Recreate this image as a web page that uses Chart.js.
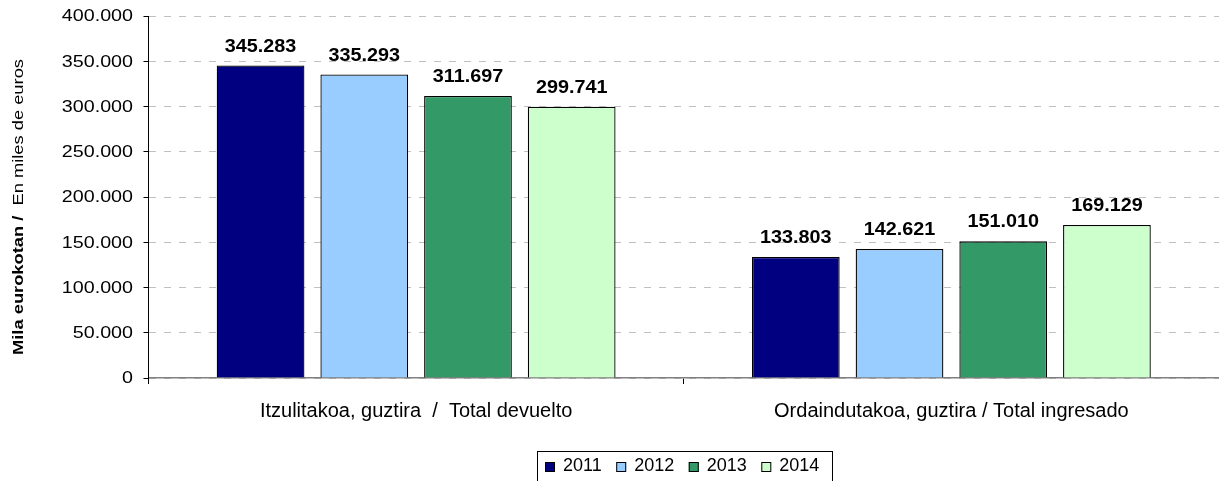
<!DOCTYPE html>
<html>
<head>
<meta charset="utf-8">
<script src="https://cdn.jsdelivr.net/npm/chart.js@4/dist/chart.umd.min.js"></script>
<style>
  html, body { margin: 0; padding: 0; background: #fff; overflow: hidden; }
  #wrap { width: 1219px; height: 481px; }
</style>
</head>
<body>
<div id="wrap"><canvas id="refundChart"></canvas></div>
<script>
const categories = ["Itzulitakoa, guztira  /  Total devuelto", "Ordaindutakoa, guztira / Total ingresado"];
const years = ["2011", "2012", "2013", "2014"];
const values2011 = [345283, 133803];
const values2012 = [335293, 142621];
const values2013 = [311697, 151010];
const values2014 = [299741, 169129];
const colors = ["#000080", "#99ccff", "#339966", "#ccffcc"];

const FONT = "'Liberation Sans', Arial, sans-serif";
const fmt = v => v.toLocaleString("de-DE");

// draws text widened along its baseline
function wideText(ctx, text, x, y, sx) {
  ctx.save();
  ctx.translate(x, y);
  ctx.scale(sx, 1);
  ctx.fillText(text, 0, 0);
  ctx.restore();
}

// value labels above each bar
const barLabels = {
  id: "barLabels",
  afterDatasetsDraw(chart) {
    const ctx = chart.ctx;
    ctx.save();
    ctx.font = "bold 18px " + FONT;
    ctx.fillStyle = "#000";
    ctx.textAlign = "center";
    ctx.textBaseline = "alphabetic";
    chart.data.datasets.forEach((ds, i) => {
      chart.getDatasetMeta(i).data.forEach((bar, j) => {
        wideText(ctx, fmt(ds.data[j]), bar.x, bar.y - 14, 1.1);
      });
    });
    ctx.restore();
  }
};

// y tick labels, y title, and the boxed legend
const extras = {
  id: "extras",
  afterDraw(chart) {
    const ctx = chart.ctx;
    const y = chart.scales.y;

    ctx.save();
    ctx.fillStyle = "#000";
    ctx.font = "16px " + FONT;
    ctx.textAlign = "right";
    ctx.textBaseline = "middle";
    y.ticks.forEach(t => {
      wideText(ctx, fmt(t.value), 133, y.getPixelForValue(t.value) + 1, 1.23);
    });
    ctx.restore();

    ctx.save();
    ctx.fillStyle = "#000";
    ctx.translate(19, 207);
    ctx.rotate(-Math.PI / 2);
    ctx.scale(1.22, 1);
    ctx.textBaseline = "middle";
    const bold = "Mila eurokotan /  ";
    const normal = "En miles de euros";
    ctx.font = "bold 15px " + FONT;
    const wb = ctx.measureText(bold).width;
    ctx.font = "15px " + FONT;
    const wn = ctx.measureText(normal).width;
    const x0 = -(wb + wn) / 2;
    ctx.font = "bold 15px " + FONT;
    ctx.fillText(bold, x0, 0);
    ctx.font = "15px " + FONT;
    ctx.fillText(normal, x0 + wb, 0);
    ctx.restore();

    // legend
    ctx.save();
    ctx.font = "18px " + FONT;
    ctx.textBaseline = "middle";
    ctx.textAlign = "left";
    ctx.lineWidth = 1;
    ctx.strokeStyle = "#000";
    ctx.strokeRect(537.5, 451.5, 295, 40);
    let lx = 545;
    const ly = 467;
    chart.data.datasets.forEach(ds => {
      ctx.fillStyle = ds.backgroundColor;
      ctx.fillRect(lx, ly - 5, 10, 10);
      ctx.strokeRect(lx + 0.5, ly - 4.5, 9, 9);
      ctx.fillStyle = "#000";
      ctx.fillText(ds.label, lx + 18, ly - 1);
      lx += 18 + ctx.measureText(ds.label).width + 14.5;
    });
    ctx.restore();
  }
};

new Chart(document.getElementById("refundChart"), {
  type: "bar",
  data: {
    labels: categories,
    datasets: [
      { label: years[0], data: values2011, backgroundColor: colors[0] },
      { label: years[1], data: values2012, backgroundColor: colors[1] },
      { label: years[2], data: values2013, backgroundColor: colors[2] },
      { label: years[3], data: values2014, backgroundColor: colors[3] }
    ].map(d => Object.assign(d, { borderColor: "#000", borderWidth: 1.3, categoryPercentage: 0.775, barPercentage: 0.846 }))
  },
  options: {
    responsive: true,
    maintainAspectRatio: false,
    animation: false,
    layout: { padding: { top: 16, right: -3, bottom: 0, left: 0 } },
    plugins: {
      tooltip: { enabled: false },
      legend: { display: false }
    },
    scales: {
      x: {
        offset: true,
        grid: { display: true, offset: true, drawOnChartArea: false, drawTicks: true, tickLength: 6, tickColor: "#000" },
        border: { color: "#808080", width: 1.5 },
        ticks: { font: { family: FONT, size: 20 }, color: "#000", padding: 15 },
        afterFit(scale) { scale.height = 103; }
      },
      y: {
        min: 0,
        max: 400000,
        ticks: { stepSize: 50000, display: false },
        grid: { color: "#c0c0c0", tickColor: "#000", tickLength: 5, tickBorderDash: [] },
        border: { color: "#000", width: 1, dash: [7, 8] },
        afterFit(scale) { scale.width = 148.5; }
      }
    }
  },
  plugins: [barLabels, extras]
});
</script>
</body>
</html>
